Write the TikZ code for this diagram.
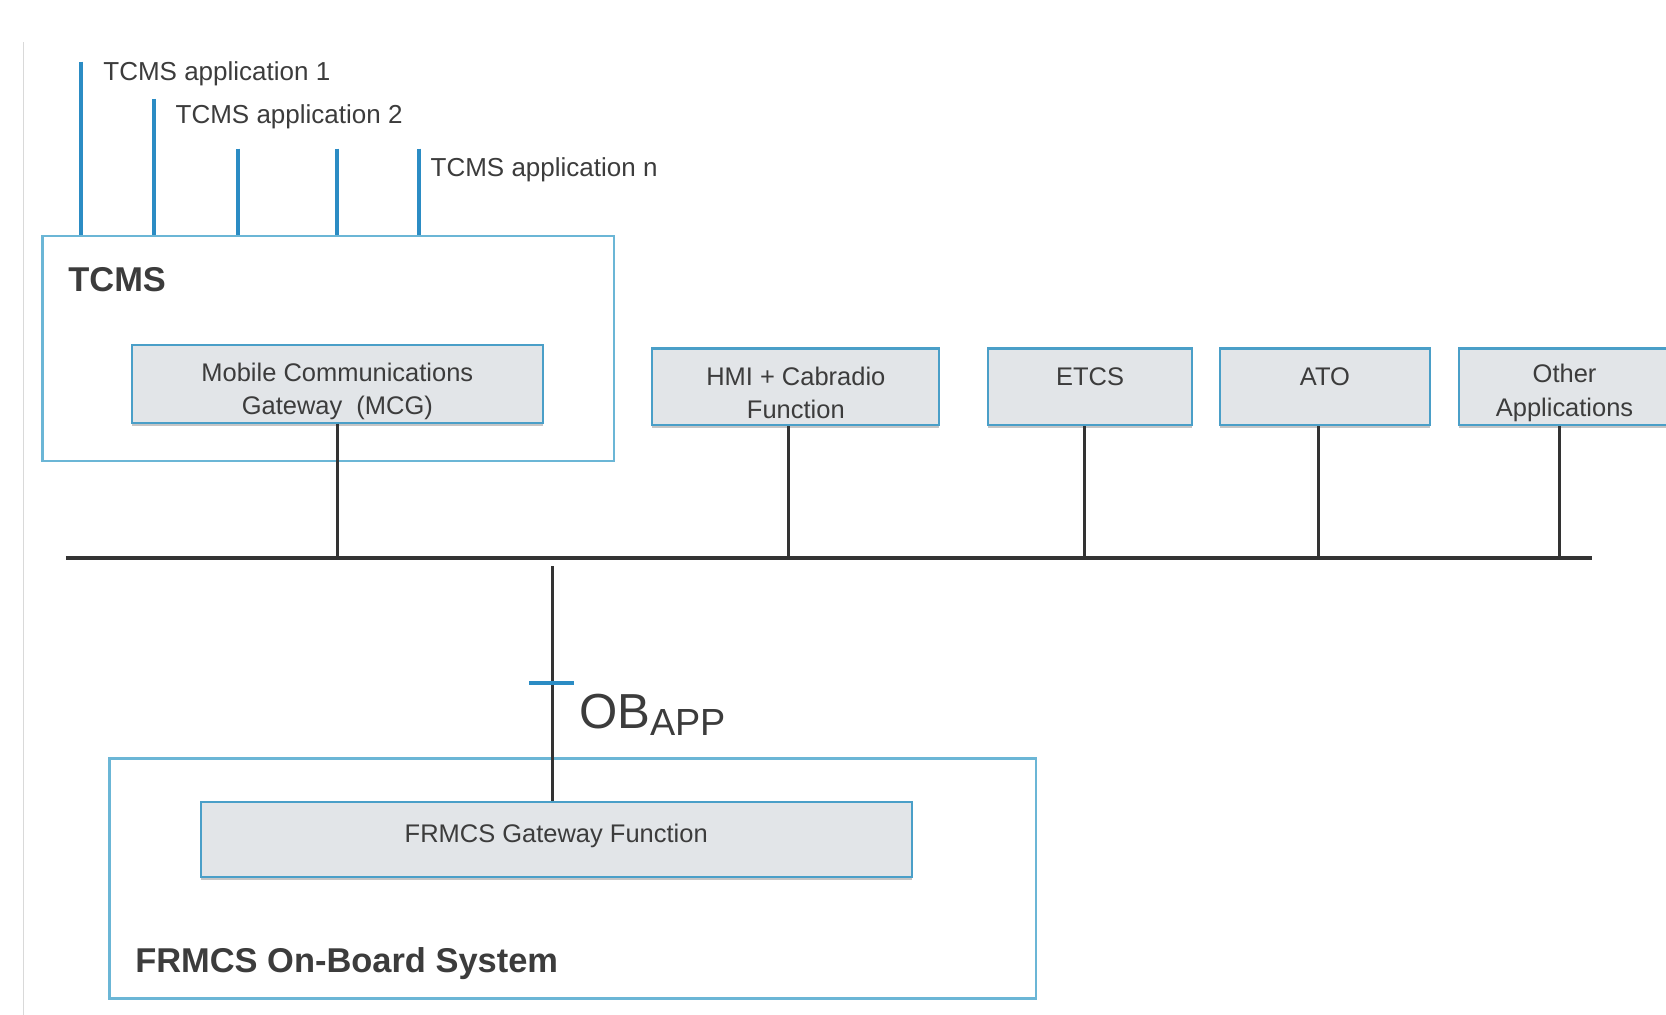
\documentclass[tikz,border=0pt]{standalone}
\usepackage{fontspec}
\setmainfont{Liberation Sans}
\usetikzlibrary{shadows,calc}
\definecolor{frameblue}{HTML}{6BB6D6}
\definecolor{boxblue}{HTML}{4A9FC8}
\definecolor{boxgray}{HTML}{E2E5E8}
\definecolor{appblue}{HTML}{2B8CC4}
\definecolor{busgray}{HTML}{333333}
\definecolor{txtgray}{HTML}{3C3C3C}
\definecolor{edgegray}{HTML}{D9D9D9}
\begin{document}
\begin{tikzpicture}[x=0.02125cm, y=-0.02125cm,
  frame/.style={draw=frameblue, line width=1.5pt, inner sep=0pt},
  box/.style={draw=boxblue, fill=boxgray, line width=1.2pt, inner sep=0pt, drop shadow={shadow xshift=0pt, shadow yshift=-1.8pt, opacity=.45, fill=gray}},
  boxtxt/.style={inner sep=0pt, align=center, text=txtgray, font=\fontsize{14.5}{19}\selectfont, yshift=-3.5pt},
  title/.style={anchor=base west, inner sep=0pt, text=txtgray, font=\bfseries\fontsize{19.6}{22}\selectfont},
  applbl/.style={anchor=base west, inner sep=0pt, text=txtgray, font=\fontsize{14.8}{17}\selectfont},
  appline/.style={draw=appblue, line width=2.4pt},
  link/.style={draw=busgray, line width=1.8pt},
  bus/.style={draw=busgray, line width=2.4pt}]
\useasboundingbox[fill=white] (0,0) rectangle (1568,955);
\draw[edgegray, line width=0.6pt] (22,40) -- (22,955);
% TCMS
\node[frame, minimum width=11.43cm, minimum height=4.505cm](tcms) at (309,328){};
\node[title](tcmslbl) at (64,274){TCMS};
\node[box, minimum width=8.22cm, minimum height=1.55cm, label={[boxtxt, yshift=-0.6pt]center:Mobile Communications\\Gateway~~(MCG)}](mcg) at (317.5,361.5){};
\foreach \x/\t [count=\i] in {76/58,145/93,224/140,317/140,394/140}{
  \coordinate (app\i) at (\x,\t);
  \draw[appline] (app\i) -- (app\i |- tcms.north);
}
\node[applbl](lblone) at (97,76){TCMS application 1};
\node[applbl](lbltwo) at (165,116){TCMS application 2};
\node[applbl](lbln) at (405,166){TCMS application n};
% applications
\node[box, minimum width=5.74cm, minimum height=1.53cm, label={[boxtxt]center:HMI + Cabradio\\Function}](hmi) at (749,364){};
\node[box, minimum width=4.08cm, minimum height=1.53cm, label={[boxtxt]center:ETCS\\\mbox{}}](etcs) at (1026,364){};
\node[box, minimum width=4.21cm, minimum height=1.53cm, label={[boxtxt]center:ATO\\\mbox{}}](ato) at (1247,364){};
\node[box, minimum width=4.23cm, minimum height=1.53cm, label={[boxtxt]center:Other\\Applications}](other) at (1472.5,364){};
% bus
\coordinate (busL) at (62,525);
\coordinate (busR) at (1498,525);
\draw[bus] (busL) -- (busR);
\foreach \n/\dx in {mcg/0,hmi/-7,etcs/-5,ato/-6,other/-5}
  \draw[link] ($(\n.south)+(\dx,0)$) -- ($(\n.south |- busL)+(\dx,0)$);
% FRMCS
\node[frame, minimum width=18.53cm, minimum height=4.80cm](obsys) at (539,827){};
\node[title](obsyslbl) at (127,915){FRMCS On-Board System};
\node[box, minimum width=14.22cm, minimum height=1.49cm, label={[boxtxt, yshift=5.3pt]center:FRMCS Gateway Function}](frmgw) at (523.5,790){};
\coordinate (obtop) at (520,533);
\draw[link] (obtop) -- (obtop |- frmgw.north);
\coordinate (tickL) at (498,643);
\coordinate (tickR) at (540,643);
\draw[appline] (tickL) -- (tickR);
\node[anchor=base west, inner sep=0pt, text=txtgray, font=\fontsize{28}{30}\selectfont](oblbl) at (545,686){OB\raisebox{-4pt}{\fontsize{21.5}{23}\selectfont APP}};
\end{tikzpicture}
\end{document}
